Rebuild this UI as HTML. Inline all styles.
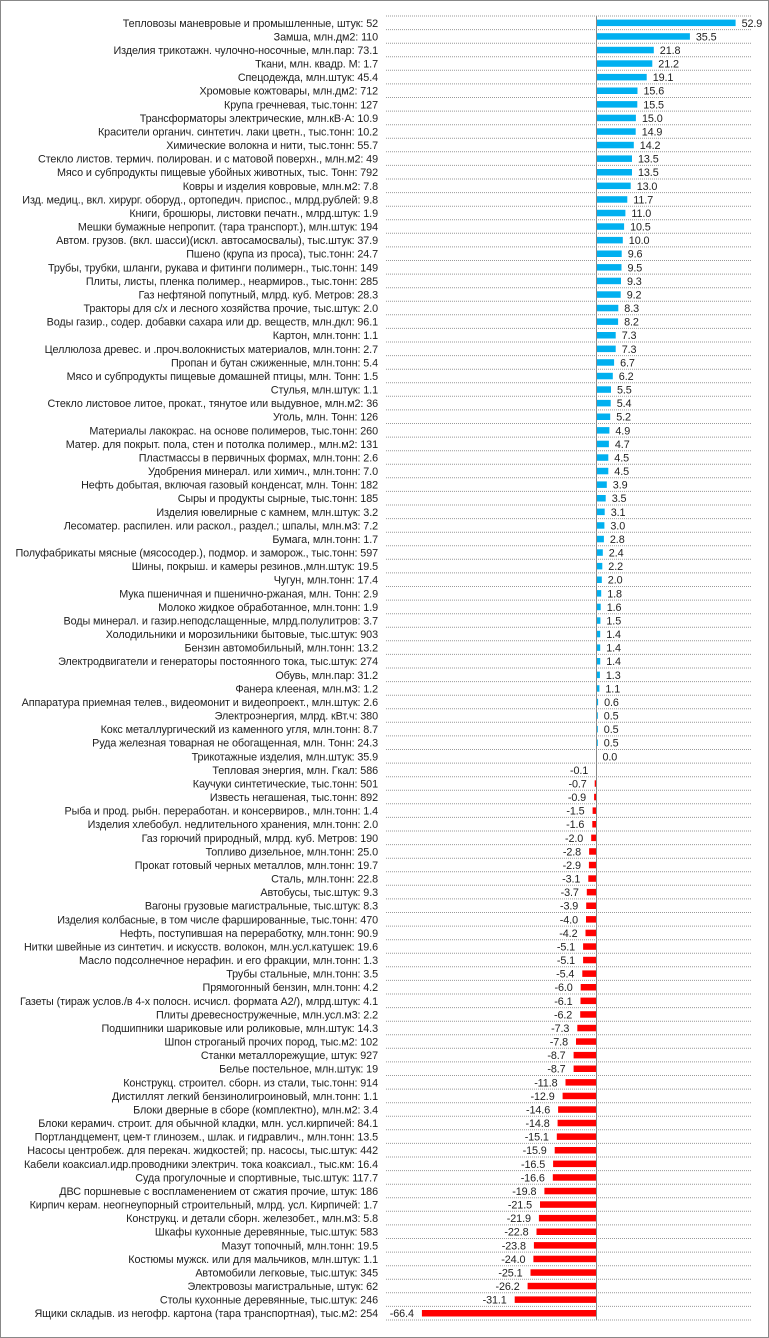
<!DOCTYPE html>
<html><head><meta charset="utf-8">
<style>
html,body{margin:0;padding:0;background:#fff}
svg{display:block}
text{font-family:"Liberation Sans",Arial,sans-serif;font-size:10.8px;fill:#222;letter-spacing:-0.1px}
</style></head>
<body>
<svg id="c" width="769" height="1338" xmlns="http://www.w3.org/2000/svg">
<rect x="0.5" y="0.5" width="768" height="1337" fill="#fff" stroke="#888" stroke-width="1"/>
</svg>
<script>
const d=[
["Тепловозы маневровые и промышленные, штук: 52",52.9],
["Замша, млн.дм2: 110",35.5],
["Изделия трикотажн. чулочно-носочные, млн.пар: 73.1",21.8],
["Ткани, млн. квадр. М: 1.7",21.2],
["Спецодежда, млн.штук: 45.4",19.1],
["Хромовые кожтовары, млн.дм2: 712",15.6],
["Крупа гречневая, тыс.тонн: 127",15.5],
["Трансформаторы электрические, млн.кВ·А: 10.9",15.0],
["Красители органич. синтетич. лаки цветн., тыс.тонн: 10.2",14.9],
["Химические волокна и нити, тыс.тонн: 55.7",14.2],
["Стекло листов. термич. полирован. и с матовой поверхн., млн.м2: 49",13.5],
["Мясо и субпродукты пищевые убойных животных, тыс. Тонн: 792",13.5],
["Ковры и изделия ковровые, млн.м2: 7.8",13.0],
["Изд. медиц., вкл. хирург. оборуд., ортопедич. приспос., млрд.рублей: 9.8",11.7],
["Книги, брошюры, листовки печатн., млрд.штук: 1.9",11.0],
["Мешки бумажные непропит. (тара транспорт.), млн.штук: 194",10.5],
["Автом. грузов. (вкл. шасси)(искл. автосамосвалы), тыс.штук: 37.9",10.0],
["Пшено (крупа из проса), тыс.тонн: 24.7",9.6],
["Трубы, трубки, шланги, рукава и фитинги полимерн., тыс.тонн: 149",9.5],
["Плиты, листы, пленка полимер., неармиров., тыс.тонн: 285",9.3],
["Газ нефтяной попутный, млрд. куб. Метров: 28.3",9.2],
["Тракторы для с/х и лесного хозяйства прочие, тыс.штук: 2.0",8.3],
["Воды газир., содер. добавки сахара или др. веществ, млн.дкл: 96.1",8.2],
["Картон, млн.тонн: 1.1",7.3],
["Целлюлоза древес. и .проч.волокнистых материалов, млн.тонн: 2.7",7.3],
["Пропан и бутан сжиженные, млн.тонн: 5.4",6.7],
["Мясо и субпродукты пищевые домашней птицы, млн. Тонн: 1.5",6.2],
["Стулья, млн.штук: 1.1",5.5],
["Стекло листовое литое, прокат., тянутое или выдувное, млн.м2: 36",5.4],
["Уголь, млн. Тонн: 126",5.2],
["Материалы лакокрас. на основе полимеров, тыс.тонн: 260",4.9],
["Матер. для покрыт. пола, стен и потолка полимер., млн.м2: 131",4.7],
["Пластмассы в первичных формах, млн.тонн: 2.6",4.5],
["Удобрения минерал. или химич., млн.тонн: 7.0",4.5],
["Нефть добытая, включая газовый конденсат, млн. Тонн: 182",3.9],
["Сыры и продукты сырные, тыс.тонн: 185",3.5],
["Изделия ювелирные с камнем, млн.штук: 3.2",3.1],
["Лесоматер. распилен. или раскол., раздел.; шпалы, млн.м3: 7.2",3.0],
["Бумага, млн.тонн: 1.7",2.8],
["Полуфабрикаты мясные (мясосодер.), подмор. и заморож., тыс.тонн: 597",2.4],
["Шины, покрыш. и камеры резинов.,млн.штук: 19.5",2.2],
["Чугун, млн.тонн: 17.4",2.0],
["Мука пшеничная и пшенично-ржаная, млн. Тонн: 2.9",1.8],
["Молоко жидкое обработанное, млн.тонн: 1.9",1.6],
["Воды минерал. и газир.неподслащенные, млрд.полулитров: 3.7",1.5],
["Холодильники и морозильники бытовые, тыс.штук: 903",1.4],
["Бензин автомобильный, млн.тонн: 13.2",1.4],
["Электродвигатели и генераторы постоянного тока, тыс.штук: 274",1.4],
["Обувь, млн.пар: 31.2",1.3],
["Фанера клееная, млн.м3: 1.2",1.1],
["Аппаратура приемная телев., видеомонит и видеопроект., млн.штук: 2.6",0.6],
["Электроэнергия, млрд. кВт.ч: 380",0.5],
["Кокс металлургический из каменного угля, млн.тонн: 8.7",0.5],
["Руда железная товарная не обогащенная, млн. Тонн: 24.3",0.5],
["Трикотажные изделия, млн.штук: 35.9",0.0],
["Тепловая энергия, млн. Гкал: 586",-0.1],
["Каучуки синтетические, тыс.тонн: 501",-0.7],
["Известь негашеная, тыс.тонн: 892",-0.9],
["Рыба и прод. рыбн. переработан. и консервиров., млн.тонн: 1.4",-1.5],
["Изделия хлебобул. недлительного хранения, млн.тонн: 2.0",-1.6],
["Газ горючий природный, млрд. куб. Метров: 190",-2.0],
["Топливо дизельное, млн.тонн: 25.0",-2.8],
["Прокат готовый черных металлов, млн.тонн: 19.7",-2.9],
["Сталь, млн.тонн: 22.8",-3.1],
["Автобусы, тыс.штук: 9.3",-3.7],
["Вагоны грузовые магистральные, тыс.штук: 8.3",-3.9],
["Изделия колбасные, в том числе фаршированные, тыс.тонн: 470",-4.0],
["Нефть, поступившая на переработку, млн.тонн: 90.9",-4.2],
["Нитки швейные из синтетич. и искусств. волокон, млн.усл.катушек: 19.6",-5.1],
["Масло подсолнечное нерафин. и его фракции, млн.тонн: 1.3",-5.1],
["Трубы стальные, млн.тонн: 3.5",-5.4],
["Прямогонный бензин, млн.тонн: 4.2",-6.0],
["Газеты (тираж услов./в 4-х полосн. исчисл. формата А2/), млрд.штук: 4.1",-6.1],
["Плиты древесностружечные, млн.усл.м3: 2.2",-6.2],
["Подшипники шариковые или роликовые, млн.штук: 14.3",-7.3],
["Шпон строганый прочих пород, тыс.м2: 102",-7.8],
["Станки металлорежущие, штук: 927",-8.7],
["Белье постельное, млн.штук: 19",-8.7],
["Конструкц. строител. сборн. из стали, тыс.тонн: 914",-11.8],
["Дистиллят легкий бензинолигроиновый, млн.тонн: 1.1",-12.9],
["Блоки дверные в сборе (комплектно), млн.м2: 3.4",-14.6],
["Блоки керамич. строит. для обычной кладки, млн. усл.кирпичей: 84.1",-14.8],
["Портландцемент, цем-т глинозем., шлак. и гидравлич., млн.тонн: 13.5",-15.1],
["Насосы центробеж. для перекач. жидкостей; пр. насосы, тыс.штук: 442",-15.9],
["Кабели коаксиал.идр.проводники электрич. тока коаксиал., тыс.км: 16.4",-16.5],
["Суда прогулочные и спортивные, тыс.штук: 117.7",-16.6],
["ДВС поршневые с воспламенением от сжатия прочие, штук: 186",-19.8],
["Кирпич керам. неогнеупорный строительный, млрд. усл. Кирпичей: 1.7",-21.5],
["Конструкц. и детали сборн. железобет., млн.м3: 5.8",-21.9],
["Шкафы кухонные деревянные, тыс.штук: 583",-22.8],
["Мазут топочный, млн.тонн: 19.5",-23.8],
["Костюмы мужск. или для мальчиков, млн.штук: 1.1",-24.0],
["Автомобили легковые, тыс.штук: 345",-25.1],
["Электровозы магистральные, штук: 62",-26.2],
["Столы кухонные деревянные, тыс.штук: 246",-31.1],
["Ящики складыв. из негофр. картона (тара транспортная), тыс.м2: 254",-66.4]
];
const svg=document.getElementById("c");
const top0=16,pitch=(1320-16)/96,zx=596.5,sc=2.63;
let h="";
for(let i=0;i<=96;i++){const y=(top0+i*pitch).toFixed(1);
h+=`<line x1="386" x2="752" y1="${y}" y2="${y}" stroke="#999" stroke-width="1" stroke-dasharray="1,1"/>`;}
d.forEach((r,i)=>{const t=top0+i*pitch,c=t+pitch/2,v=r[1];
const w=Math.abs(v)*sc;
if(v>=0){h+=`<rect x="${zx}" y="${(c-3.2).toFixed(1)}" width="${w.toFixed(1)}" height="6.5" fill="#00B0F0"/>`;
h+=`<text x="${(zx+w+6).toFixed(1)}" y="${(c+4).toFixed(1)}">${v.toFixed(1)}</text>`;}
else{h+=`<rect x="${(zx-w).toFixed(1)}" y="${(c-3.2).toFixed(1)}" width="${w.toFixed(1)}" height="6.5" fill="#FF0000"/>`;
h+=`<text x="${(zx-w-8).toFixed(1)}" y="${(c+4).toFixed(1)}" text-anchor="end">${v.toFixed(1)}</text>`;}
h+=`<text x="378" y="${(c+4).toFixed(1)}" text-anchor="end">${r[0]}</text>`;});
h+=`<line x1="${zx}" x2="${zx}" y1="16" y2="1320" stroke="#888" stroke-width="1"/>`;
svg.insertAdjacentHTML("beforeend",h);
</script>
</body></html>
